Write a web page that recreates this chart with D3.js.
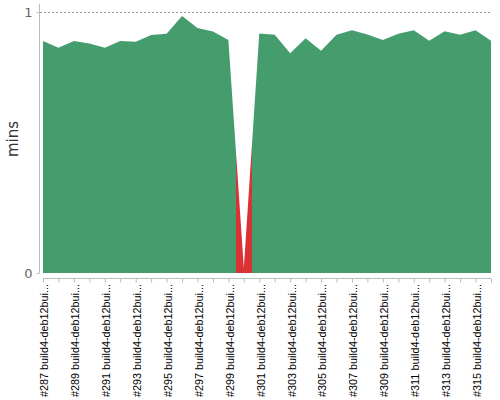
<!DOCTYPE html>
<html><head><meta charset="utf-8">
<script src="https://cdn.jsdelivr.net/npm/d3@7"></script>
<style>body{margin:0;background:#fff}svg{display:block}</style>
</head><body>
<svg id="c" width="500" height="400"></svg>
<script>
const builds = ["#287","#288","#289","#290","#291","#292","#293","#294","#295","#296","#297","#298","#299","#300","#301","#302","#303","#304","#305","#306","#307","#308","#309","#310","#311","#312","#313","#314","#315","#316"];
const labelSuffix = " build4-deb12bui...";
const durations = [0.889,0.863,0.889,0.879,0.863,0.889,0.886,0.912,0.917,0.985,0.939,0.925,0.893,0.02,0.918,0.913,0.842,0.899,0.852,0.913,0.930,0.914,0.893,0.917,0.930,0.890,0.926,0.913,0.930,0.890];
const results = ["SUCCESS","SUCCESS","SUCCESS","SUCCESS","SUCCESS","SUCCESS","SUCCESS","SUCCESS","SUCCESS","SUCCESS","SUCCESS","SUCCESS","SUCCESS","FAILURE","SUCCESS","SUCCESS","SUCCESS","SUCCESS","SUCCESS","SUCCESS","SUCCESS","SUCCESS","SUCCESS","SUCCESS","SUCCESS","SUCCESS","SUCCESS","SUCCESS","SUCCESS","SUCCESS"];
const yTicks = [0, 1];
const colors = {SUCCESS:"#459c6d", FAILURE:"#d93334"};

const svg = d3.select("#c");
const x = d3.scalePoint().domain(builds).range([43, 491]);
const y = d3.scaleLinear().domain([0, 1]).range([273, 12]);
const step = x.step();

const defs = svg.append("defs");
const grad = defs.append("linearGradient").attr("id","g").attr("gradientUnits","userSpaceOnUse")
  .attr("x1", x.range()[0]).attr("x2", x.range()[1]).attr("y1",0).attr("y2",0);
const span = x.range()[1]-x.range()[0];
builds.forEach((b,i)=>{
  const c = colors[results[i]];
  const a = Math.max(0, (x(b) - step/2 - x.range()[0]) / span);
  const e = Math.min(1, (x(b) + step/2 - x.range()[0]) / span);
  grad.append("stop").attr("offset", a).attr("stop-color", c);
  grad.append("stop").attr("offset", e).attr("stop-color", c);
});

svg.append("line").attr("x1",40).attr("x2",491).attr("y1",y(1)+0.5).attr("y2",y(1)+0.5)
  .attr("stroke","#999").attr("stroke-dasharray","2,2");

const area = d3.area().x((d,i)=>x(builds[i])).y0(y(0)).y1(d=>y(d));
svg.append("path").datum(durations).attr("d", area).attr("fill","url(#g)");

const ya = svg.append("g").attr("transform","translate(39.5,0)")
  .call(d3.axisLeft(y).tickValues(yTicks).tickFormat(d3.format("d")).tickSize(3).tickPadding(4));
ya.select(".domain").attr("d","M0,4V"+y(0)).attr("stroke","#bbb");
ya.selectAll(".tick line").attr("stroke","#bbb");
ya.selectAll("text").attr("font-family","DejaVu Sans, sans-serif").attr("font-size",13).attr("fill","#666");

const xa = svg.append("g").attr("transform","translate(0,278.5)")
  .call(d3.axisBottom(x).tickSize(4).tickFormat(""));
xa.select(".domain").attr("d","M43,0H491").attr("stroke","#bbb");
xa.selectAll(".tick line").attr("stroke","#bbb");
xa.selectAll(".tick").filter((d,i)=>i%2===0).append("text")
  .attr("transform","translate(1,5.5) rotate(-90)")
  .attr("text-anchor","end").attr("dy","0.35em")
  .attr("textLength",113).attr("lengthAdjust","spacingAndGlyphs")
  .attr("font-family","Liberation Sans, Arial, sans-serif").attr("font-size",11).attr("fill","#000")
  .text(d=>d+labelSuffix);

svg.append("text").attr("transform","translate(13,"+139+") rotate(-90)")
  .attr("text-anchor","middle").attr("dy","0.35em")
  .attr("font-family","DejaVu Sans, sans-serif").attr("font-size",15).attr("fill","#333")
  .text("mins");
</script>
</body></html>
